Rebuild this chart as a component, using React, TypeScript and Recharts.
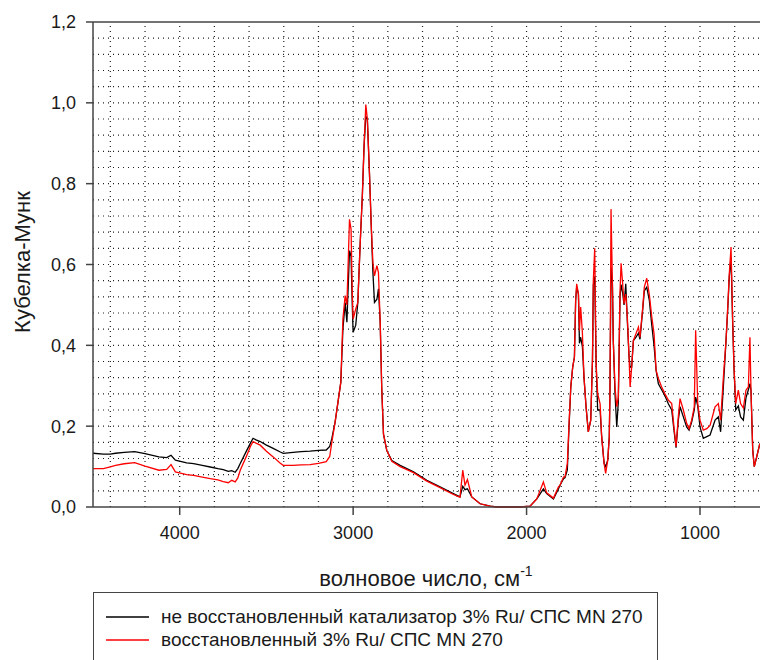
import React from "react";
import {
  LineChart,
  Line,
  XAxis,
  YAxis,
  ReferenceLine,
  Legend,
} from "recharts";

const FONT = "'Liberation Sans', Arial, sans-serif";

// wavenumber, cm-1 (high to low)
const WAVENUMBERS = [
  4500, 4440, 4400, 4370, 4320, 4260, 4200, 4120, 4075, 4050, 4025, 3960, 3920, 3870, 3824, 3780,
  3749, 3720, 3700, 3680, 3665, 3651, 3617, 3590, 3577, 3560, 3536, 3500, 3461, 3420, 3403, 3346,
  3300, 3248, 3200, 3155, 3135, 3123, 3104, 3085, 3071, 3059, 3046, 3036, 3021, 3012, 3005, 3000,
  2985, 2973, 2960, 2947, 2937, 2927, 2918, 2906, 2896, 2886, 2877, 2863, 2854, 2844, 2835, 2825,
  2806, 2777, 2729, 2652, 2575, 2499, 2422, 2384, 2368, 2355, 2341, 2316, 2268, 2210, 2172, 2037,
  1980, 1941, 1903, 1884, 1845, 1816, 1807, 1787, 1778, 1765, 1755, 1745, 1734, 1724, 1717, 1711,
  1701, 1695, 1688, 1678, 1669, 1657, 1644, 1630, 1620, 1615, 1607, 1599, 1590, 1576, 1567, 1553,
  1544, 1532, 1523, 1519, 1513, 1505, 1500, 1490, 1480, 1471, 1461, 1455, 1446, 1438, 1428, 1419,
  1409, 1403, 1394, 1384, 1369, 1355, 1346, 1330, 1321, 1307, 1292, 1278, 1265, 1253, 1240, 1221,
  1202, 1182, 1163, 1150, 1138, 1125, 1115, 1096, 1077, 1063, 1048, 1033, 1025, 1013, 1000, 981,
  961, 942, 913, 894, 881, 865, 850, 840, 831, 821, 812, 804, 794, 779, 766, 750,
  735, 721, 712, 706, 696, 687, 673, 655,
];

// не восстановленный катализатор
const UNREDUCED = [
  0.133, 0.131, 0.131, 0.133, 0.135, 0.137, 0.132, 0.124, 0.122, 0.128, 0.116, 0.109, 0.1075, 0.103, 0.099, 0.095,
  0.0925, 0.088, 0.09, 0.086, 0.095, 0.1075, 0.137, 0.16, 0.17, 0.166, 0.162, 0.153, 0.145, 0.136, 0.1325, 0.135,
  0.137, 0.138, 0.14, 0.141, 0.15, 0.169, 0.21, 0.267, 0.309, 0.44, 0.506, 0.457, 0.634, 0.62, 0.5, 0.432,
  0.45, 0.506, 0.646, 0.77, 0.893, 0.967, 0.959, 0.827, 0.7, 0.58, 0.506, 0.514, 0.54, 0.457, 0.292, 0.18,
  0.14, 0.115, 0.103, 0.087, 0.066, 0.05, 0.033, 0.025, 0.051, 0.043, 0.045, 0.025, 0.008, 0.002, 0, 0,
  0.002, 0.02, 0.045, 0.033, 0.02, 0.045, 0.054, 0.07, 0.073, 0.092, 0.2, 0.297, 0.346, 0.371, 0.511, 0.545,
  0.527, 0.405, 0.42, 0.396, 0.322, 0.248, 0.186, 0.215, 0.363, 0.55, 0.57, 0.355, 0.24, 0.24, 0.174, 0.108,
  0.1, 0.116, 0.174, 0.289, 0.593, 0.552, 0.412, 0.28, 0.198, 0.26, 0.52, 0.55, 0.53, 0.5, 0.552, 0.46,
  0.371, 0.346, 0.346, 0.412, 0.42, 0.43, 0.415, 0.49, 0.535, 0.544, 0.511, 0.45, 0.4, 0.338, 0.305, 0.29,
  0.275, 0.255, 0.24, 0.19, 0.147, 0.215, 0.248, 0.223, 0.198, 0.19, 0.21, 0.24, 0.272, 0.25, 0.198, 0.17,
  0.174, 0.178, 0.215, 0.223, 0.186, 0.3, 0.41, 0.49, 0.57, 0.618, 0.46, 0.346, 0.24, 0.25, 0.223, 0.215,
  0.27, 0.29, 0.305, 0.289, 0.141, 0.1, 0.124, 0.157,
];

// восстановленный
const REDUCED = [
  0.095, 0.095, 0.099, 0.103, 0.107, 0.11, 0.101, 0.091, 0.093, 0.105, 0.087, 0.08, 0.078, 0.074, 0.07, 0.067,
  0.063, 0.06, 0.066, 0.062, 0.072, 0.091, 0.124, 0.152, 0.162, 0.158, 0.153, 0.138, 0.124, 0.108, 0.103, 0.103,
  0.104, 0.105, 0.108, 0.112, 0.125, 0.16, 0.21, 0.267, 0.309, 0.465, 0.523, 0.5, 0.712, 0.687, 0.53, 0.465,
  0.49, 0.506, 0.646, 0.77, 0.893, 0.996, 0.959, 0.827, 0.7, 0.605, 0.572, 0.597, 0.58, 0.457, 0.292, 0.18,
  0.14, 0.113, 0.1, 0.085, 0.064, 0.048, 0.031, 0.024, 0.091, 0.054, 0.068, 0.025, 0.008, 0.002, 0, 0,
  0.002, 0.02, 0.062, 0.035, 0.022, 0.05, 0.054, 0.074, 0.075, 0.108, 0.207, 0.297, 0.346, 0.371, 0.511, 0.552,
  0.527, 0.437, 0.495, 0.43, 0.322, 0.248, 0.186, 0.215, 0.363, 0.561, 0.64, 0.355, 0.28, 0.255, 0.174, 0.108,
  0.083, 0.116, 0.174, 0.289, 0.737, 0.552, 0.412, 0.297, 0.248, 0.272, 0.536, 0.603, 0.552, 0.503, 0.527, 0.47,
  0.371, 0.297, 0.346, 0.412, 0.429, 0.445, 0.42, 0.495, 0.544, 0.566, 0.525, 0.47, 0.429, 0.338, 0.318, 0.297,
  0.28, 0.264, 0.256, 0.198, 0.149, 0.223, 0.268, 0.24, 0.207, 0.194, 0.215, 0.248, 0.437, 0.256, 0.215, 0.19,
  0.194, 0.202, 0.248, 0.256, 0.215, 0.322, 0.412, 0.495, 0.577, 0.643, 0.47, 0.346, 0.256, 0.289, 0.256, 0.245,
  0.289, 0.297, 0.42, 0.289, 0.141, 0.1, 0.124, 0.157,
];

const X_TICKS = [4000, 3000, 2000, 1000];
const Y_TICKS = [0, 0.2, 0.4, 0.6, 0.8, 1.0, 1.2];
const GRID_X = [4400, 4200, 4000, 3800, 3600, 3400, 3200, 3000, 2800, 2600, 2400, 2200, 2000, 1800, 1600, 1400, 1200, 1000, 800];
const GRID_Y = [
  0.04, 0.08, 0.12, 0.16, 0.2, 0.24, 0.28, 0.32, 0.36, 0.4, 0.44, 0.48, 0.52, 0.56, 0.6,
  0.64, 0.68, 0.72, 0.76, 0.8, 0.84, 0.88, 0.92, 0.96, 1.0, 1.04, 1.08, 1.12, 1.16,
];

const SERIES_NAMES = [
  "не восстановленный катализатор 3% Ru/ СПС MN 270",
  "восстановленный 3% Ru/ СПС MN 270",
];
const SERIES_COLORS = ["#000000", "#ff0000"];

const data = WAVENUMBERS.map((wn, i) => ({
  wn,
  unreduced: UNREDUCED[i],
  reduced: REDUCED[i],
}));

const fmtY = (v: number) => v.toFixed(1).replace(".", ",");

const gridStyle = { stroke: "#222", strokeDasharray: "1 4", strokeWidth: 1.2 };

function LegendBox() {
  return (
    <div
      style={{
        border: "1.5px solid #444",
        boxSizing: "border-box",
        width: 565,
        height: 80,
        background: "#fff",
        fontFamily: FONT,
        fontSize: 19,
        color: "#1a1a1a",
        paddingTop: 12,
      }}
    >
      {SERIES_NAMES.map((name, i) => (
        <div key={name} style={{ display: "flex", alignItems: "center", height: 23 }}>
          <svg width={67} height={10} style={{ flex: "none" }}>
            <line x1={12} x2={55} y1={5} y2={5} stroke={SERIES_COLORS[i]} strokeWidth={1.5} />
          </svg>
          <span style={{ whiteSpace: "nowrap" }}>{name}</span>
        </div>
      ))}
    </div>
  );
}

function XTitle() {
  return (
    <text x={426} y={586} textAnchor="middle" fontFamily={FONT} fontSize={22} fill="#1a1a1a">
      волновое число, см
      <tspan fontSize={14} dy={-10}>-1</tspan>
    </text>
  );
}

function YTitle() {
  return (
    <text
      x={0}
      y={0}
      transform="translate(30, 262) rotate(-90)"
      textAnchor="middle"
      fontFamily={FONT}
      fontSize={22}
      fill="#1a1a1a"
    >
      Кубелка-Мунк
    </text>
  );
}

export default function App() {
  return (
    <div style={{ position: "absolute", left: 0, top: 0, width: 760, height: 660, background: "#fff" }}>
      <LineChart
        width={760}
        height={660}
        data={data}
        margin={{ top: 22, right: 0, left: 0, bottom: 73 }}
      >
        {GRID_Y.map((v) => (
          <ReferenceLine key={`gy${v}`} y={v} {...gridStyle} />
        ))}
        {GRID_X.map((v) => (
          <ReferenceLine key={`gx${v}`} x={v} {...gridStyle} />
        ))}
        <XAxis
          dataKey="wn"
          type="number"
          domain={[654, 4500]}
          reversed
          allowDataOverflow
          ticks={X_TICKS}
          height={80}
          tickSize={8}
          tickMargin={11}
          axisLine={{ stroke: "#444", strokeWidth: 1.5 }}
          tickLine={{ stroke: "#444", strokeWidth: 1.5 }}
          tick={{ fill: "#1a1a1a", fontSize: 18, fontFamily: FONT }}
          label={<XTitle />}
        />
        <YAxis
          type="number"
          domain={[0, 1.2]}
          ticks={Y_TICKS}
          width={93}
          tickSize={7}
          tickMargin={10}
          tickFormatter={fmtY}
          axisLine={{ stroke: "#444", strokeWidth: 1.5 }}
          tickLine={{ stroke: "#444", strokeWidth: 1.5 }}
          tick={{ fill: "#1a1a1a", fontSize: 18, fontFamily: FONT }}
          label={<YTitle />}
        />
        <ReferenceLine y={1.2} stroke="#444" strokeWidth={1.5} ifOverflow="visible" />
        <Line
          type="linear"
          dataKey="unreduced"
          name={SERIES_NAMES[0]}
          stroke={SERIES_COLORS[0]}
          strokeWidth={1.3}
          dot={false}
          isAnimationActive={false}
        />
        <Line
          type="linear"
          dataKey="reduced"
          name={SERIES_NAMES[1]}
          stroke={SERIES_COLORS[1]}
          strokeWidth={1.3}
          dot={false}
          isAnimationActive={false}
        />
        <Legend
          layout="horizontal"
          verticalAlign="middle"
          align="center"
          content={<LegendBox />}
          wrapperStyle={{ left: 93, top: 592, width: 565, height: 80 }}
        />
      </LineChart>
    </div>
  );
}
